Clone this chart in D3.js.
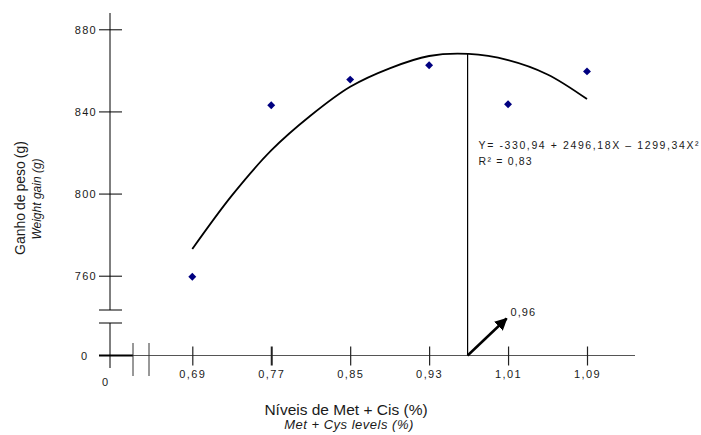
<!DOCTYPE html>
<html>
<head>
<meta charset="utf-8">
<script src="https://cdn.jsdelivr.net/npm/d3@7"></script>
<style>
  body { margin: 0; background: #fff; }
  text { font-family: Arial, "Liberation Sans", sans-serif; fill: #1a1a1a; }
</style>
</head>
<body>
<div id="vis"></div>
<script>
// observed points (Met + Cys level, weight gain)
const levels = [0.69, 0.77, 0.85, 0.93, 1.01, 1.09];
const gain = [759.5, 843, 855.5, 862.5, 843.5, 859.5];

// fitted curve
const fitX = [0.69, 0.73, 0.77, 0.81, 0.85, 0.89, 0.93, 0.97, 1.01, 1.05, 1.09];
const fitY = [773, 799, 821, 838, 852, 861, 867, 868, 865, 858, 846];

const yTicks = [760, 800, 840, 880];
const xTicks = [0.69, 0.77, 0.85, 0.93, 1.01, 1.09];

const peakX = 0.969, peakY = 868, peakLabel = "0,96";
const eqLines = ["Y= -330,94 + 2496,18X \u2013 1299,34X\u00b2", "R\u00b2 = 0,83"];

const width = 701, height = 435;
const originX = 110, zeroY = 355.5;

let svg = d3.select("#vis")
    .append("svg")
    .attr("width", width)
    .attr("height", height);

let x = d3.scaleLinear().domain([0.69, 1.09]).range([192.3, 587]);
let y = d3.scaleLinear().domain([760, 880]).range([275.7, 29.3]);

const comma = d => d3.format(".2f")(d).replace(".", ",");

////////// axes //////////

let axes = svg.append("g").attr("stroke", "#000");

// y axis with break
axes.append("line").attr("x1", originX).attr("x2", originX).attr("y1", 13).attr("y2", 310);
axes.append("line").attr("x1", originX).attr("x2", originX).attr("y1", 323).attr("y2", 368);
[310, 323].forEach(v => {
    axes.append("line").attr("x1", 99).attr("x2", 122).attr("y1", v).attr("y2", v);
});

// x axis with break
axes.append("line").attr("x1", 99).attr("x2", 635).attr("y1", zeroY).attr("y2", zeroY)
    .attr("stroke", "#555");
axes.append("line").attr("x1", 99).attr("x2", 133).attr("y1", zeroY).attr("y2", zeroY)
    .attr("stroke-width", 2);
[133, 149].forEach(v => {
    axes.append("line").attr("x1", v).attr("x2", v).attr("y1", 343).attr("y2", 376)
        .attr("stroke", "#333");
});

let yAxis = svg.append("g")
    .attr("transform", "translate(" + originX + ",0)")
    .call(d3.axisLeft(y).tickValues(yTicks).tickSize(0).tickFormat(d3.format("d")));
yAxis.select(".domain").remove();
yAxis.selectAll(".tick line").attr("x1", -11).attr("x2", 12).attr("stroke", "#000");
yAxis.selectAll(".tick text")
    .attr("x", -13)
    .attr("dy", "0.35em")
    .style("font-size", "11px")
    .style("letter-spacing", "1.3px")
    .style("font-family", "Arial, 'Liberation Sans', sans-serif");

let xAxis = svg.append("g")
    .attr("transform", "translate(0," + zeroY + ")")
    .call(d3.axisBottom(x).tickValues(xTicks).tickSize(0).tickFormat(comma));
xAxis.select(".domain").remove();
xAxis.selectAll(".tick line").attr("y1", -9).attr("y2", 10).attr("stroke", "#222")
    .attr("stroke-width", (d, i) => i === 1 ? 2 : 1.2);
xAxis.selectAll(".tick text")
    .attr("y", 22)
    .attr("dy", 0)
    .style("font-size", "11px")
    .style("letter-spacing", "1.4px")
    .style("font-family", "Arial, 'Liberation Sans', sans-serif");

// zero labels
svg.append("text").attr("x", 81).attr("y", zeroY + 4).style("font-size", "11px").text("0");
svg.append("text").attr("x", 102).attr("y", 386).style("font-size", "11px").text("0");

////////// titles //////////

svg.append("text")
    .attr("transform", "translate(25,198) rotate(-90)")
    .attr("text-anchor", "middle")
    .style("font-size", "14px")
    .style("word-spacing", "-1px")
    .text("Ganho de peso (g)");
svg.append("text")
    .attr("transform", "translate(41,199) rotate(-90)")
    .attr("text-anchor", "middle")
    .style("font-size", "12px")
    .style("font-style", "italic")
    .text("Weight gain (g)");

svg.append("text")
    .attr("x", 346).attr("y", 415)
    .attr("text-anchor", "middle")
    .style("font-size", "15.5px")
    .text("N\u00edveis de Met + Cis (%)");
svg.append("text")
    .attr("x", 349).attr("y", 429)
    .attr("text-anchor", "middle")
    .style("font-size", "13px")
    .style("font-style", "italic")
    .style("letter-spacing", "0.5px")
    .text("Met + Cys levels (%)");

////////// plot //////////

let plot = svg.append("g");

let line = d3.line()
    .x((d, i) => x(fitX[i]))
    .y(d => y(d))
    .curve(d3.curveCatmullRom);

plot.append("path")
    .datum(fitY)
    .attr("d", line)
    .attr("fill", "none")
    .attr("stroke", "#000")
    .attr("stroke-width", 1.8);

plot.selectAll(".pt")
    .data(levels)
    .enter()
    .append("path")
    .attr("class", "pt")
    .attr("d", d3.symbol(d3.symbolDiamond2, 40))
    .attr("transform", (d, i) => "translate(" + x(d) + "," + y(gain[i]) + ")")
    .attr("fill", "#000080");

// vertex marker
plot.append("line")
    .attr("x1", x(peakX)).attr("x2", x(peakX))
    .attr("y1", y(peakY)).attr("y2", zeroY)
    .attr("stroke", "#000").attr("stroke-width", 1.2);

svg.append("defs").append("marker")
    .attr("id", "arrow")
    .attr("viewBox", "0 0 10 10")
    .attr("refX", 9).attr("refY", 5)
    .attr("markerWidth", 5).attr("markerHeight", 5)
    .attr("orient", "auto")
    .append("path")
    .attr("d", "M0,0 L10,5 L0,10 z")
    .attr("fill", "#000");

plot.append("line")
    .attr("x1", x(peakX)).attr("y1", zeroY)
    .attr("x2", x(peakX) + 39).attr("y2", zeroY - 37)
    .attr("stroke", "#000").attr("stroke-width", 2.5)
    .attr("marker-end", "url(#arrow)");

svg.append("text")
    .attr("x", x(peakX) + 43).attr("y", zeroY - 40)
    .style("font-size", "11px")
    .style("letter-spacing", "1px")
    .text(peakLabel);

svg.selectAll(".eq")
    .data(eqLines)
    .enter()
    .append("text")
    .attr("class", "eq")
    .attr("x", x(peakX) + 11)
    .attr("y", (d, i) => 149 + i * 16)
    .style("font-size", "10.5px")
    .style("letter-spacing", (d, i) => i === 0 ? "1.6px" : "1.2px")
    .text(d => d);
</script>
</body>
</html>
